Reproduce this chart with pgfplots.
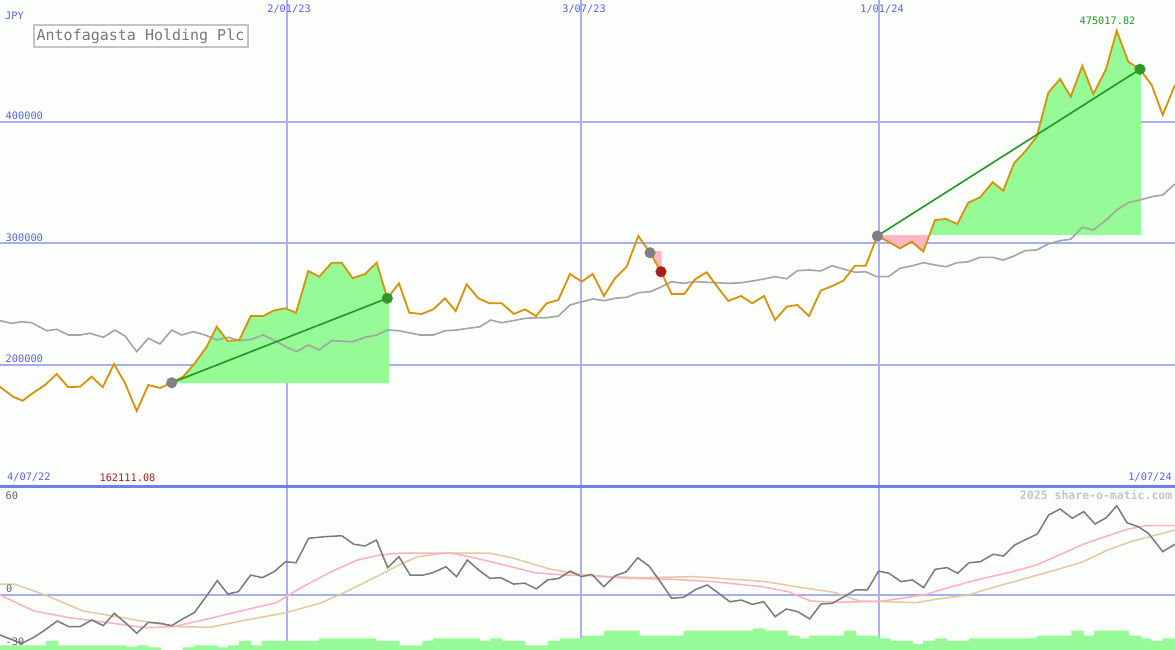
\documentclass[border=0pt]{standalone}
\usepackage{pgfplots}
\pgfplotsset{compat=1.18}
\usepackage{fontspec}
\setmonofont{DejaVu Sans Mono}
\definecolor{bgc}{RGB}{252,254,252}
\definecolor{gridh}{RGB}{164,176,240}
\definecolor{gridv}{RGB}{168,178,242}
\definecolor{sep}{RGB}{112,128,232}
\definecolor{lab}{RGB}{84,100,226}
\definecolor{price}{RGB}{214,146,8}
\definecolor{maline}{RGB}{164,164,164}
\definecolor{gfill}{RGB}{150,250,150}
\definecolor{pfill}{RGB}{255,182,196}
\definecolor{gline}{RGB}{34,150,34}
\definecolor{gmark}{RGB}{50,150,40}
\definecolor{rmark}{RGB}{170,30,30}
\definecolor{greymark}{RGB}{128,128,128}
\definecolor{minlab}{RGB}{160,30,30}
\definecolor{maxlab}{RGB}{40,150,40}
\definecolor{ttl}{RGB}{120,120,120}
\definecolor{ttlbox}{RGB}{196,196,196}
\definecolor{osc}{RGB}{122,122,122}
\definecolor{mapink}{RGB}{255,176,192}
\definecolor{matan}{RGB}{226,202,160}
\definecolor{wm}{RGB}{196,196,196}
\definecolor{oscl}{RGB}{100,100,100}
\begin{document}
\begin{tikzpicture}[font=\ttfamily\fontsize{10.3}{12}\selectfont]
\begin{axis}[name=top, scale only axis, width=1175pt, height=487pt,
  xmin=0, xmax=1175, ymin=99600, ymax=500400, hide axis, clip=true]
\fill[bgc] (rel axis cs:0,0) rectangle (rel axis cs:1,1);
\coordinate (TL) at (rel axis cs:0,1);
\coordinate (BL) at (rel axis cs:0,0);
% grid
\draw[gridh, line width=2pt] (0,400000) -- (1175,400000);
\draw[gridh, line width=2pt] (0,300000) -- (1175,300000);
\draw[gridh, line width=2pt] (0,200000) -- (1175,200000);
\draw[gridv, line width=1.3pt] (287,99600) -- (287,500400);
\draw[gridv, line width=1.3pt] (581,99600) -- (581,500400);
\draw[gridv, line width=1.3pt] (879,99600) -- (879,500400);
\draw[sep, line width=3pt] (0,99600) -- (1175,99600);
% fills
\addplot[fill=gfill, draw=none] coordinates {(171.7,185400) (183.3,190400) (195,201700) (206.7,215100) (216.7,231500) (227.7,219800) (239.3,220600) (250.7,240300) (263.3,240300) (273.3,244700) (285,246700) (296,243000) (308.3,277400) (319.3,272700) (331.7,284200) (341.7,284200) (352.7,271400) (365,274900) (376.7,284200) (387.3,254900) (388.8,254900) (388.8,185000) (171.7,185000)} -- cycle;
\addplot[fill=pfill, draw=none] coordinates {(650,293800) (661.7,293800) (661.7,276800) (661,276800) (650,292400)} -- cycle;
\addplot[fill=pfill, draw=none] coordinates {(877.3,306800) (877.3,306200) (888.3,301500) (900,296000) (911.7,301500) (923.3,293300) (929.4,306800)} -- cycle;
\addplot[fill=gfill, draw=none] coordinates {(929.4,306800) (935,319300) (946,320200) (957.3,316000) (968.3,333600) (980,338000) (992.7,350400) (1003.3,343500) (1014,366000) (1025,375600) (1036.7,387900) (1048.3,424100) (1060,435400) (1070.7,420800) (1082.3,446300) (1093.3,423000) (1106,443400) (1116.7,475018) (1128.3,449600) (1140,443400) (1141,443400) (1141,306800)} -- cycle;
% moving average
\addplot[maline, line width=1.6pt] coordinates {(0,236500) (11.7,234300) (21.7,235600) (31.7,234800) (46.7,228200) (56.7,229400) (68.3,224700) (80,224700) (90,226100) (103.3,222800) (115,228800) (125,223900) (136.7,211000) (148.3,222000) (160,217300) (171.7,228800) (181.7,224700) (193.3,227400) (205,224700) (216.7,220600) (228.3,222800) (240,220000) (251.7,221200) (263.3,224700) (275,220000) (286.7,214600) (296.7,211000) (308.3,216500) (319.3,212400) (331.7,220000) (352.7,219200) (365,222800) (376.7,224700) (387.3,228800) (399,228200) (420,224700) (433.3,224700) (445,228200) (456.7,228800) (468.3,230200) (480,231500) (490.7,237000) (501.7,234800) (513.3,236500) (525,238400) (536.7,238900) (546.7,238900) (558.3,240300) (570,249400) (581.7,252100) (593.3,254300) (604,252900) (615,254900) (626.7,255700) (638.3,259500) (650,260300) (661.7,264400) (671.7,268600) (683.3,267200) (695,268600) (706.7,268100) (717.3,267700) (728.3,267200) (741,267700) (752.3,269100) (764,270800) (775,272700) (786.7,271000) (797.3,277600) (809,278200) (820.7,277400) (832.3,281700) (843.3,279000) (855,276300) (865.7,276800) (876.7,272700) (888.3,272700) (900,279600) (911.7,281500) (923.3,284200) (935,282300) (946,280900) (957.3,284200) (968.3,285000) (980,288600) (992.7,288600) (1003.3,286400) (1014,289700) (1025,294100) (1036.7,294700) (1048.3,299600) (1060,302300) (1070.7,303500) (1082.3,313300) (1093.3,311100) (1106,319300) (1116.7,327600) (1128.3,333600) (1140,335800) (1151.7,338500) (1162.7,339900) (1175,349000)};
% start markers
\addplot[only marks, mark=*, mark size=5.3pt, greymark] coordinates {(171.7,185400) (650,292400) (877.3,306200)};
% price
\addplot[price, line width=1.8pt] coordinates {(0,182100) (13,173900) (22.7,170600) (33,177000) (45,183500) (56.7,192600) (68,181900) (80,182100) (91.7,190400) (102.7,181700) (114,200800) (125,185200) (136.7,162111) (148.3,183500) (160,181100) (171.7,185400) (183.3,190400) (195,201700) (206.7,215100) (216.7,231500) (227.7,219800) (239.3,220600) (250.7,240300) (263.3,240300) (273.3,244700) (285,246700) (296,243000) (308.3,277400) (319.3,272700) (331.7,284200) (341.7,284200) (352.7,271400) (365,274900) (376.7,284200) (387.3,254900) (399,267200) (409.3,243000) (421.7,242000) (433.3,245800) (445,254900) (455.7,244400) (466.7,266400) (478.3,254900) (489.3,250800) (501.7,250800) (514,242000) (525,245800) (536,240300) (546.7,250800) (558.3,253500) (570,274900) (581.7,268600) (592.7,274900) (604,256800) (615,271400) (626.7,280900) (638.3,306200) (650,292400) (661,276800) (671.7,258400) (684.3,258400) (695,270500) (706.7,276300) (717.3,264400) (728.3,252700) (741,256800) (752.3,250800) (764,256800) (775,237000) (786.7,248000) (797.3,249400) (809,240300) (820.7,261200) (832.3,265000) (843.3,269400) (855,281700) (865.7,281700) (877.3,306200) (888.3,301500) (900,296000) (911.7,301500) (923.3,293300) (935,319300) (946,320200) (957.3,316000) (968.3,333600) (980,338000) (992.7,350400) (1003.3,343500) (1014,366000) (1025,375600) (1036.7,387900) (1048.3,424100) (1060,435400) (1070.7,420800) (1082.3,446300) (1093.3,423000) (1106,443400) (1116.7,475018) (1128.3,449600) (1140,443400) (1151.7,430400) (1162.7,405800) (1175,430400)};
% trend lines
\addplot[gline, line width=1.6pt] coordinates {(171.7,185400) (387.3,254900)};
\addplot[gline, line width=1.6pt] coordinates {(877.3,306200) (1140,443400)};
% end markers
\addplot[only marks, mark=*, mark size=5.3pt, gmark] coordinates {(387.3,254900) (1140,443400)};
\addplot[only marks, mark=*, mark size=5.3pt, rmark] coordinates {(661,276800)};
% labels
\node[lab, anchor=south west, inner sep=0pt] at (5,484100) {JPY};
\node[lab, anchor=south west, inner sep=0pt] at (5.5,402000) {400000};
\node[lab, anchor=south west, inner sep=0pt] at (5.5,301600) {300000};
\node[lab, anchor=south west, inner sep=0pt] at (5.5,202000) {200000};
\node[lab, anchor=south, inner sep=0pt] at (289,489300) {2/01/23};
\node[lab, anchor=south, inner sep=0pt] at (584,489300) {3/07/23};
\node[lab, anchor=south, inner sep=0pt] at (882,489300) {1/01/24};
\node[lab, anchor=south west, inner sep=0pt] at (7,103700) {4/07/22};
\node[lab, anchor=south east, inner sep=0pt] at (1172,103700) {1/07/24};
\node[minlab, anchor=south, inner sep=0pt] at (127.5,103700) {162111.08};
\node[maxlab, anchor=south, inner sep=0pt] at (1107.5,479800) {475017.82};
\node[draw=ttlbox, line width=2pt, fill=white, text=ttl, minimum width=214pt, minimum height=22pt, inner sep=0pt, font=\ttfamily\fontsize{15}{16}\selectfont] at (140.5,470500) {Antofagasta Holding Plc};
\end{axis}
\begin{axis}[name=bot, at={(BL)}, anchor=north west, scale only axis, width=1175pt, height=163pt,
  xmin=0, xmax=1175, ymin=-31.74, ymax=62.32, hide axis, clip=true]
\fill[bgc] (rel axis cs:0,0) rectangle (rel axis cs:1,1);
\coordinate (BR) at (rel axis cs:1,0);
\draw[gridh, line width=2pt] (0,0) -- (1175,0);
\draw[gridv, line width=1.3pt] (287,-31.74) -- (287,62.32);
\draw[gridv, line width=1.3pt] (581,-31.74) -- (581,62.32);
\draw[gridv, line width=1.3pt] (879,-31.74) -- (879,62.32);
\draw[sep, line width=3pt] (0,62.32) -- (1175,62.32);
% volume
\addplot[fill=gfill, draw=none, const plot] coordinates {(0,-31.8) (0,-29.0) (45.9,-26.5) (58.3,-29.0) (126,-29.8) (137.4,-29.0) (148.7,-30.2) (161,-31.8) (182.5,-30.2) (193.8,-29.0) (217.5,-30.2) (227.7,-29.0) (239,-26.5) (251.4,-29.0) (261.6,-26.5) (319.2,-25.0) (376.4,-26.5) (399.7,-29.0) (422.3,-26.5) (432.8,-25.0) (479.9,-26.5) (490,-25.0) (502.4,-26.5) (525,-29.0) (547.6,-26.5) (559.7,-25.0) (581.5,-23.5) (603.8,-20.6) (639.6,-23.5) (683.6,-20.6) (752.5,-19.2) (764.9,-20.6) (787.5,-23.5) (799.5,-25.0) (808.9,-23.5) (843.9,-20.6) (856,-23.5) (879.3,-25.0) (890.6,-26.5) (913.2,-28.3) (923,-26.5) (935,-25.0) (947.1,-26.5) (968.9,-25.0) (1036.6,-23.5) (1071.3,-20.6) (1083.7,-23.5) (1093.8,-20.6) (1128.8,-23.5) (1141.3,-25.0) (1151.4,-26.5) (1162.7,-25.0) (1175,-31.8)} -- cycle;
% MAs
\addplot[matan, line width=1.5pt] coordinates {(0,6.3) (15,6.2) (45.2,0) (82.8,-9.2) (112.9,-12.1) (135.5,-14.4) (176.9,-18.3) (210.8,-18.6) (240.9,-15.0) (286,-10.2) (319.9,-4.8) (346.3,1.9) (376.4,10.6) (398.9,17.3) (417.8,22.1) (444.1,24.1) (489.3,24.1) (511.9,21.5) (549.5,15.0) (575.8,12.2) (607.6,10.6) (641.5,10.0) (694.1,10.6) (743.1,8.7) (765.6,7.7) (795.8,4.8) (833.4,1.6) (859.7,-3.5) (916.2,-4.4) (942.5,-1.9) (968.9,0) (984,2.9) (1014,7.7) (1055.4,14.4) (1081.8,18.9) (1108.1,26.0) (1130.7,30.8) (1153.3,34.2) (1175,37.5)};
\addplot[mapink, line width=1.5pt] coordinates {(0,0) (33.9,-9.2) (69.6,-13.1) (112.9,-16.3) (144.9,-18.9) (173.1,-18.3) (210.8,-13.4) (244.6,-8.7) (276.6,-4.4) (301,4.2) (331.2,13.4) (357.5,20.2) (380.1,23.1) (399,24.1) (451.6,24.1) (474.2,21.5) (504.3,17.3) (534.4,12.9) (564.5,11.5) (590,11.1) (630.2,9.6) (671.6,9.1) (713,7.7) (761.9,4.8) (788.2,1.9) (810.8,-3.5) (841,-4.2) (882.3,-3.5) (923.7,0) (946.3,3.9) (976.4,8.7) (1010.3,13.1) (1036.6,17.3) (1063,24.1) (1085.6,29.8) (1111.9,35.0) (1127,37.9) (1145.8,40.0) (1175,40.0)};
% oscillator
\addplot[osc, line width=1.5pt] coordinates {(0,-23.1) (21.7,-27.9) (33.3,-24.6) (45,-20.2) (57.3,-15.0) (69,-18.3) (80,-18.3) (91.7,-14.4) (103.3,-17.7) (114.3,-10.6) (126,-16.3) (136.7,-22.1) (148.3,-15.8) (160,-16.3) (171.7,-17.7) (182.7,-13.8) (194.3,-10.2) (206,-1.0) (217.3,8.3) (227.7,0.6) (238.3,1.9) (250.7,11.5) (262.3,10.0) (274,13.4) (285.7,19.2) (296,18.6) (308.6,32.7) (323.7,33.6) (341.7,34.2) (353.8,29.3) (365.1,28.3) (376.4,31.7) (387.7,15.8) (398.9,22.1) (410.2,11.5) (423.4,11.5) (432.8,12.9) (446,16.3) (456.5,10.6) (467.4,20.2) (478.7,14.4) (490,9.6) (500.6,10.0) (513.7,6.3) (525,6.8) (536.3,3.5) (547.6,8.7) (558.9,9.6) (570.2,13.8) (581.5,10.6) (591.8,11.9) (603.8,4.8) (615.1,11.1) (626.4,13.4) (637.7,21.5) (649,16.7) (660.3,7.7) (671.6,-1.9) (683.6,-1.3) (696,3.3) (707.3,5.8) (718.6,1.0) (729.9,-3.9) (741.2,-2.9) (752.5,-5.4) (763.8,-3.9) (775.1,-12.5) (786.4,-8.1) (797.6,-9.6) (809.7,-13.8) (821,-5.2) (832.3,-4.8) (843.9,-1.0) (855.2,2.9) (867.3,2.9) (878.6,13.8) (889.1,12.5) (901.1,7.7) (912.4,8.7) (923.7,4.2) (935,14.8) (947.1,15.8) (957.6,12.5) (968.9,18.6) (980.2,19.2) (993.4,23.5) (1003.5,22.5) (1014.8,28.9) (1026.1,32.1) (1037.4,35.2) (1048.7,46.2) (1060,49.6) (1072.4,44.3) (1083.7,48.1) (1095,41.0) (1106.3,44.6) (1116.8,51.5) (1127,41.7) (1138.3,39.4) (1148.4,35.6) (1162.7,25.0) (1175,29.3)};
% labels
\node[oscl, anchor=south west, inner sep=0pt] at (5.5,54.8) {60};
\node[oscl, anchor=south west, inner sep=0pt] at (6,1.5) {0};
\node[oscl, anchor=south west, inner sep=0pt] at (5.5,-29.3) {-30};
\node[wm, anchor=south east, inner sep=0pt, font=\ttfamily\bfseries\fontsize{11.5}{13}\selectfont] at (1172.5,54.8) {2025 share-o-matic.com};
\end{axis}
\pgfresetboundingbox
\useasboundingbox (TL) rectangle (BR);
\end{tikzpicture}
\end{document}
